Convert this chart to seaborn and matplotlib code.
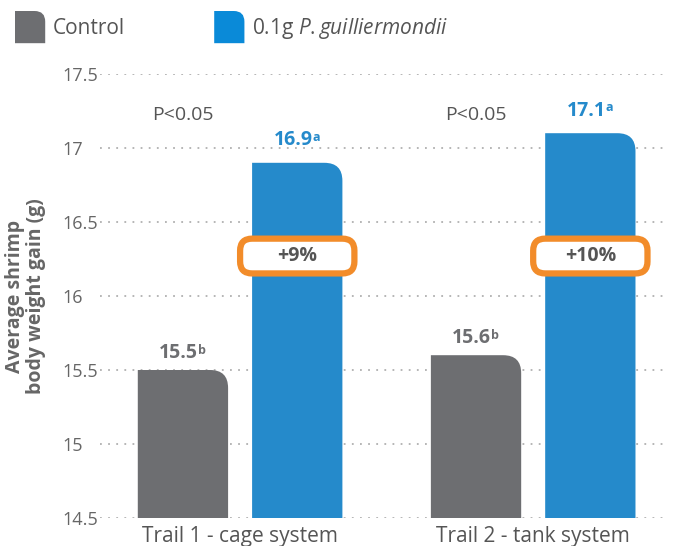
import matplotlib
matplotlib.use('Agg')

import numpy as np
import pandas as pd
import matplotlib.pyplot as plt
import seaborn as sns
from matplotlib.path import Path
from matplotlib.patches import PathPatch, Patch, FancyBboxPatch
from matplotlib.legend_handler import HandlerPatch

# ---------------------------------------------------------------- data
trials = ["Trail 1 - cage system", "Trail 2 - tank system"]
groups = ["Control", "0.1g P. guilliermondii"]
control = [15.5, 15.6]
treated = [16.9, 17.1]
control_letters = ["b", "b"]
treated_letters = ["a", "a"]
increase = ["+9%", "+10%"]
p_text = ["P<0.05", "P<0.05"]
yticks = [14.5, 15, 15.5, 16, 16.5, 17, 17.5]

GRAY = "#6d6e71"
BLUE = "#258acb"
BLUE_LEG = "#0a8ad8"
ORANGE = "#f28c2a"
TXT = "#555555"

df = pd.DataFrame({
    "trial": trials * 2,
    "group": [groups[0]] * 2 + [groups[1]] * 2,
    "value": control + treated,
})

sns.set_theme(style="white")
plt.rcParams['font.family'] = ['Open Sans', 'DejaVu Sans']
plt.rcParams['mathtext.fontset'] = 'custom'
plt.rcParams['mathtext.it'] = 'Open Sans:italic'
plt.rcParams['mathtext.rm'] = 'Open Sans'

fig = plt.figure(figsize=(6.73, 5.46), dpi=100)
ax = fig.add_axes([100 / 673, 1 - 518 / 546, 568 / 673, 444 / 546])

sns.barplot(data=df, x="trial", y="value", hue="group", order=trials,
            hue_order=groups, palette=[GRAY, BLUE], width=0.78, gap=0.21,
            ax=ax, legend=False, saturation=1)

ax.set_ylim(14.5, 17.5)
ax.set_xlim(-0.478, 1.46)


def rounded_path(x, y0, w, top, rx, ry):
    # rectangle with only the top-right corner rounded
    verts = [(x, y0), (x + w, y0), (x + w, top - ry), (x + w, top),
             (x + w - rx, top), (x, top), (x, y0)]
    codes = [Path.MOVETO, Path.LINETO, Path.LINETO, Path.CURVE3,
             Path.CURVE3, Path.LINETO, Path.CLOSEPOLY]
    return Path(verts, codes)


p0 = ax.transData.transform((0, 0))
p1 = ax.transData.transform((1, 1))
sx, sy = p1[0] - p0[0], p1[1] - p0[1]
r_px = 18
for bar in list(ax.patches):
    x, w = bar.get_x(), bar.get_width()
    top = bar.get_y() + bar.get_height()
    pp = PathPatch(rounded_path(x, 14.5, w, top, r_px / sx, r_px / sy),
                   facecolor=bar.get_facecolor(), edgecolor='none', zorder=2)
    bar.set_visible(False)
    ax.add_patch(pp)

# grid
for t in yticks:
    ax.axhline(t, color="#b0b0b0", lw=1.3, ls=(0, (1, 3.5)), zorder=1)
sns.despine(ax=ax, left=True, bottom=True)
ax.set_yticks(yticks)
ax.set_yticklabels([f"{t:g}" for t in yticks], ha='left', color="#666666",
                   fontsize=13)
ax.tick_params(axis='y', length=0, pad=27)
ax.tick_params(axis='x', length=0, pad=6, labelsize=15, labelcolor=TXT)
ax.set_xlabel("")
ax.set_ylabel("Average shrimp\nbody weight gain (g)", fontsize=14,
              fontweight='bold', color="#666666", linespacing=1.05)
ax.yaxis.set_label_coords(-0.095, 0.5)

# annotations
off = 0.195
for i in range(len(trials)):
    for val, letter, xpos, col, dy in [
            (control[i], control_letters[i], i - off, GRAY, 5),
            (treated[i], treated_letters[i], i + off, BLUE, 9)]:
        t = ax.annotate(f"{val:g}", xy=(xpos, val), xytext=(-3, dy),
                        textcoords='offset points', ha='center', va='bottom',
                        fontsize=14, fontweight='bold', color=col)
        ax.annotate(letter, xy=(1, 0.97), xycoords=t, xytext=(0, 0),
                    textcoords='offset points', ha='left', va='top',
                    fontsize=9, fontweight='bold', color=col)
    ax.text(i - off, 17.22, p_text[i], ha='center', va='center',
            fontsize=14, color=TXT)
    bw, bh = 0.39, 0.235
    box = FancyBboxPatch((i + off - bw / 2, 16.27 - bh / 2), bw, bh,
                         boxstyle=f"round,pad=0,rounding_size={12 / sx}",
                         mutation_aspect=sx / sy,
                         facecolor='white', edgecolor=ORANGE, lw=4.5, zorder=3)
    ax.add_patch(box)
    ax.text(i + off, 16.27, increase[i], ha='center', va='center',
            fontsize=14, fontweight='bold', color=TXT, zorder=4)


# legend with the same rounded swatches
def rounded_swatch(legend, orig_handle, xdescent, ydescent, width, height,
                   fontsize):
    r = min(width, height) * 0.35
    return PathPatch(rounded_path(-xdescent, -ydescent, width,
                                  -ydescent + height, r, r))


handles = [Patch(facecolor=GRAY, edgecolor='none'),
           Patch(facecolor=BLUE_LEG, edgecolor='none')]
labels = [groups[0], r"0.1g $\mathit{P.guilliermondii}$"]
fig.legend(handles, labels, loc='upper left',
           bbox_to_anchor=(15 / 673, 1 - 11 / 546), ncol=2, frameon=False,
           fontsize=15, handlelength=1.45, handleheight=2.0,
           handletextpad=0.35, columnspacing=4.3, borderpad=0,
           borderaxespad=0, labelcolor=TXT,
           handler_map={Patch: HandlerPatch(patch_func=rounded_swatch)})

fig.savefig("out.png", dpi=100)
